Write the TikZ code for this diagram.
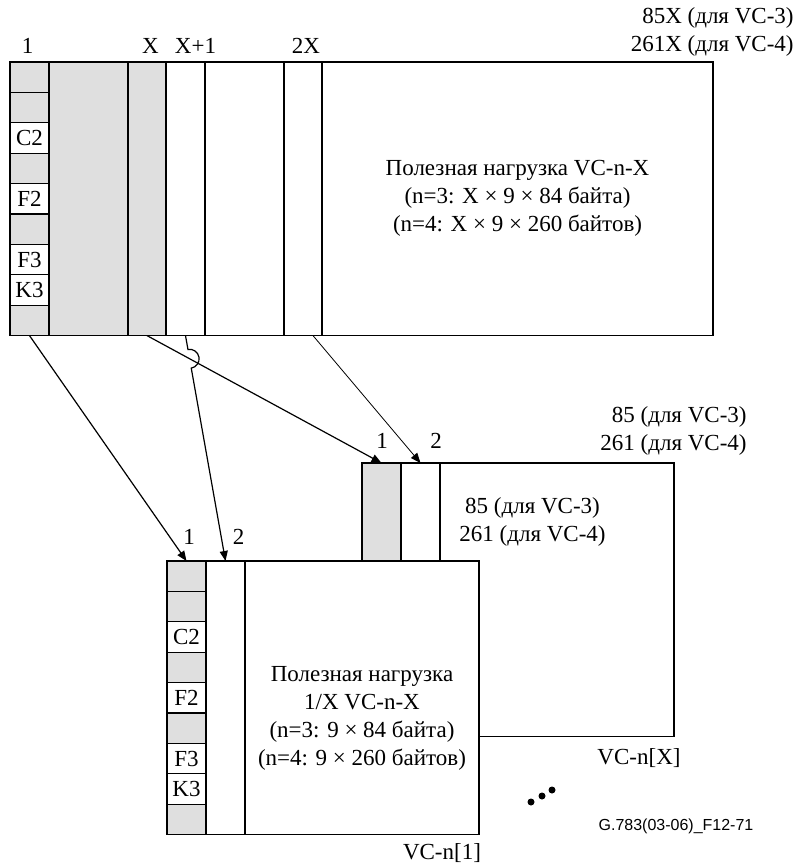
\documentclass[tikz,border=0pt]{standalone}
\usepackage{fontspec}
\setmainfont{Liberation Serif}
\newfontfamily\capfont{Liberation Sans}
\usetikzlibrary{arrows.meta,calc}
\definecolor{ohgray}{gray}{0.875}

\begin{document}
\begin{tikzpicture}[
    x=0.5pt, y=0.5pt,
    cell/.style={draw, line width=0.6pt, inner sep=0pt, outer sep=0pt, anchor=north west, align=center, font=\fontsize{11.5}{14}\selectfont},
    vcrow/.style={cell, minimum width=19.5pt, minimum height=15.2pt},
    vccol/.style={cell, minimum width=#1, minimum height=136.8pt},
    lbl/.style={inner sep=0pt, align=center, font=\fontsize{11.5}{14}\selectfont},
    arr/.style={-{Triangle[length=5pt,width=4pt]}, line width=0.6pt}
]
\useasboundingbox (0,0) rectangle (799,-866);

% VC-n-X
\foreach \r/\lab/\fc in {1//ohgray,2//ohgray,3/C2/white,4//ohgray,5/F2/white,6//ohgray,7/F3/white,8/K3/white,9//ohgray}
    \node[vcrow, fill=\fc] (t1r\r) at (10,{-62-30.4*(\r-1)}) {\lab};
\node[vccol=39.5pt, fill=ohgray] (tA) at (49,-62) {};
\node[vccol=19pt, fill=ohgray] (tX) at (128,-62) {};
\node[vccol=19.5pt] (tX1) at (166,-62) {};
\node[vccol=39.5pt] (tB) at (205,-62) {};
\node[vccol=19pt] (t2X) at (284,-62) {};
\node[vccol=195.5pt] (tpay) at (322,-62) {Полезная нагрузка VC-n-X\\(n=3: X × 9 × 84 байта)\\(n=4: X × 9 × 260 байтов)};

% column numbers
\node[lbl] (n1) at (27.5,-46) {1};
\node[lbl] (nX) at (150.5,-46) {X};
\node[lbl] (nX1) at (195.5,-46) {X+1};
\node[lbl] (n2X) at (306,-46) {2X};
\node[lbl, align=right, anchor=east] (tw) at (794,-32) {85X (для VC-3)\\261X (для VC-4)};

% VC-n[X]
\node[vccol=19.5pt, fill=ohgray] (b1) at (362,-463) {};
\node[vccol=19.5pt, fill=white] (b2) at (401,-463) {};
\node[vccol=117pt, fill=white] (bpay) at (440,-463) {};
\node[lbl] (btxt) at (532.5,-522) {85 (для VC-3)\\261 (для VC-4)};
\node[lbl, align=right, anchor=east] (bw) at (747,-431) {85 (для VC-3)\\261 (для VC-4)};
\node[lbl] (bn1) at (382,-441) {1};
\node[lbl] (bn2) at (436,-441) {2};
\node[lbl] (bname) at (639,-758) {VC-n[X]};

% VC-n[1]
\foreach \r/\lab/\fc in {1//ohgray,2//ohgray,3/C2/white,4//ohgray,5/F2/white,6//ohgray,7/F3/white,8/K3/white,9//ohgray}
    \node[vcrow, fill=\fc] (f1r\r) at (167,{-561-30.4*(\r-1)}) {\lab};
\node[vccol=19.5pt, fill=white] (f2) at (206,-561) {};
\node[vccol=117pt, fill=white] (fpay) at (245,-561) {};
\node[lbl] (ftxt) at (362,-718) {Полезная нагрузка\\1/X VC-n-X\\(n=3: 9 × 84 байта)\\(n=4: 9 × 260 байтов)};
\node[lbl] (fn1) at (189,-537) {1};
\node[lbl] (fn2) at (238.5,-537) {2};
\node[lbl] (fname) at (442,-853) {VC-n[1]};

% dots and figure number
\fill (531,-802) circle (1.75pt) (542,-796) circle (1.75pt) (552,-790) circle (1.75pt);
\node[font=\capfont\fontsize{8}{9.6}\selectfont] (fig) at (676,-826) {G.783(03-06)\_F12-71};

% arrows
\draw[arr] (t1r9.south) -- (f1r1.north);
\draw[arr] (tX.south) -- (b1.north);
\coordinate (hop) at (intersection of tX.south--b1.north and tX1.south--f2.north);
\draw[arr] (tX1.south) -- ($(hop)!4.75pt!(tX1.south)$) arc[start angle=100, end angle=-80, radius=4.75pt] -- (f2.north);
\draw[arr, line width=0.4pt] ([xshift=5pt]t2X.south) -- (b2.north);

\end{tikzpicture}
\end{document}
